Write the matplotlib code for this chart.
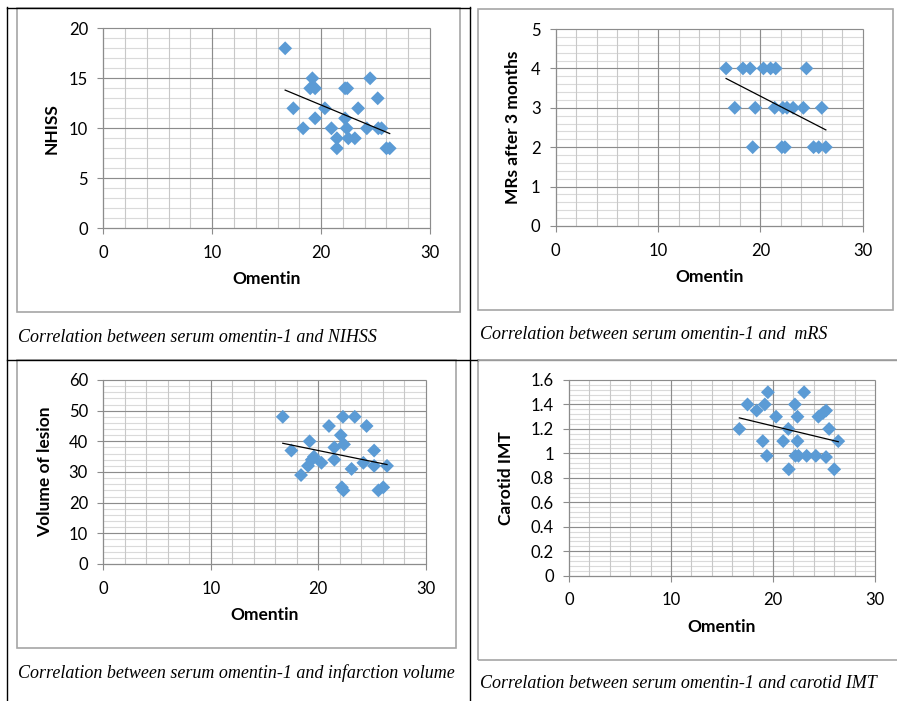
import numpy as np
import matplotlib
matplotlib.use("Agg")
import matplotlib.pyplot as plt
from matplotlib.lines import Line2D
from matplotlib.patches import Rectangle
from matplotlib.ticker import MultipleLocator, FuncFormatter

# Data (x = serum omentin-1)
omentin_nihss = [16.7, 19.2, 19.0, 19.45, 17.45, 20.35, 19.45, 18.35, 20.95, 22.2, 22.4, 22.2, 22.35,
                 21.45, 22.5, 23.1, 21.45, 23.4, 24.5, 25.2, 24.2, 25.25, 25.55, 26.0, 26.3]
nihss = [18, 15, 14, 14, 12, 12, 11, 10, 10, 14, 14, 11, 10, 9, 9, 9, 8, 12, 15, 13, 10, 10, 10, 8, 8]

omentin_mrs = [16.65, 18.3, 19.0, 20.3, 21.0, 21.5, 24.5, 17.5, 19.5, 21.4, 22.2, 22.6, 23.2, 24.2,
               26.0, 19.25, 22.1, 22.4, 25.2, 25.7, 26.4]
mrs = [4, 4, 4, 4, 4, 4, 4, 3, 3, 3, 3, 3, 3, 3, 3, 2, 2, 2, 2, 2, 2]

omentin_vol = [16.7, 17.5, 18.4, 19.2, 19.05, 19.6, 19.4, 20.3, 21.0, 21.5, 21.5, 22.3, 22.1, 22.4,
               22.2, 22.35, 23.4, 23.1, 24.2, 24.5, 25.2, 25.2, 25.6, 26.05, 26.4]
volume = [48, 37, 29, 40, 32, 35, 34, 33, 45, 38, 34, 48, 42, 39, 25, 24, 48, 31, 33, 45, 37, 32, 24, 25, 32]

omentin_imt = [16.7, 17.5, 18.4, 19.2, 19.5, 19.0, 19.4, 20.3, 21.0, 21.5, 21.55, 22.15, 22.4, 22.4,
               22.2, 22.5, 23.05, 23.3, 24.2, 24.45, 24.9, 25.2, 25.5, 25.2, 26.0, 26.4]
imt = [1.2, 1.4, 1.35, 1.4, 1.5, 1.1, 0.98, 1.3, 1.1, 1.2, 0.87, 1.4, 1.3, 1.1, 0.98, 0.98, 1.5, 0.98,
       0.98, 1.3, 1.33, 1.35, 1.2, 0.97, 0.87, 1.1]

captions = ["Correlation between serum omentin-1 and NIHSS",
            "Correlation between serum omentin-1 and  mRS",
            "Correlation between serum omentin-1 and infarction volume",
            "Correlation between serum omentin-1 and carotid IMT"]

plt.rcParams["font.family"] = ["Lato", "DejaVu Sans"]

W, H = 897, 701
fig = plt.figure(figsize=(W / 100, H / 100), dpi=100)

def fx(x):
    return x / W

def fy(y):
    return 1 - y / H

def hline(y, x0, x1, color="black", lw=1.0):
    fig.add_artist(Line2D([fx(x0), fx(x1)], [fy(y), fy(y)], color=color, lw=lw))

def vline(x, y0, y1, color="black", lw=1.0):
    fig.add_artist(Line2D([fx(x), fx(x)], [fy(y0), fy(y1)], color=color, lw=lw))

# table borders
vline(7, 7, 701)
vline(470, 7, 701)
hline(7.5, 7, 470)
hline(360, 7, 478)
hline(360, 478, 897, color="#9a9a9a")

# chart frames (left, top, right, bottom) in pixels
frames = [(17, 8, 460, 312), (478, 9, 893, 310), (17, 360, 456, 648), (478, 360, 899, 660)]
for l, t, r, b in frames:
    fig.add_artist(Rectangle((fx(l), fy(b)), fx(r - l), (b - t) / H, fill=False,
                             edgecolor="#a6a6a6", lw=1.2))

panels = [
    dict(x=omentin_nihss, y=nihss, box=(103.3, 28.3, 430, 228.3), ylim=20, major=5, minor=1,
         ylabel="NHISS", ylab_x=52, xlab_y=279),
    dict(x=omentin_mrs, y=mrs, box=(555.7, 29, 862.7, 226), ylim=5, major=1, minor=0.2,
         ylabel="MRs after 3 months", ylab_x=513, xlab_y=277),
    dict(x=omentin_vol, y=volume, box=(103.3, 380, 425.7, 564), ylim=60, major=10, minor=2,
         ylabel="Volume of lesion", ylab_x=45, xlab_y=615),
    dict(x=omentin_imt, y=imt, box=(569, 380, 875, 575.7), ylim=1.6, major=0.2, minor=0.04,
         ylabel="Carotid IMT", ylab_x=506, xlab_y=627),
]

caption_pos = [(18, 338), (480, 335), (18, 673), (480, 684)]

for p, cap, cp in zip(panels, captions, caption_pos):
    l, t, r, b = p["box"]
    ax = fig.add_axes([fx(l), fy(b), fx(r - l), (b - t) / H])
    ax.set_xlim(0, 30)
    ax.set_ylim(0, p["ylim"])
    ax.xaxis.set_major_locator(MultipleLocator(10))
    ax.yaxis.set_major_locator(MultipleLocator(p["major"]))
    ax.yaxis.set_major_formatter(FuncFormatter(lambda v, pos: f"{round(v, 2):g}"))

    # Excel-style gridlines: light minor lines under darker major lines
    xminor = np.arange(0, 30.001, 2)
    yminor = np.arange(0, p["ylim"] + 1e-9, p["minor"])
    xmajor = np.arange(0, 30.001, 10)
    ymajor = np.arange(0, p["ylim"] + 1e-9, p["major"])
    ax.hlines(yminor, 0, 30, color="#dadada", lw=0.8, zorder=0.5, clip_on=False)
    ax.vlines(xminor, 0, p["ylim"], color="#c8c8c8", lw=0.8, zorder=0.6, clip_on=False)
    ax.hlines(ymajor, 0, 30, color="#8c8c8c", lw=0.8, zorder=0.8, clip_on=False)
    ax.vlines(xmajor, 0, p["ylim"], color="#8c8c8c", lw=0.8, zorder=0.8, clip_on=False)

    for s in ["top", "right"]:
        ax.spines[s].set_visible(False)
    for s in ["left", "bottom"]:
        ax.spines[s].set_color("#8c8c8c")
        ax.spines[s].set_linewidth(0.8)
    ax.tick_params(which="major", direction="out", length=4, width=0.8, color="#8c8c8c",
                   labelsize=12, labelcolor="black")
    ax.tick_params(axis="x", which="major", pad=8)
    ax.tick_params(axis="y", which="major", pad=7)

    ax.scatter(p["x"], p["y"], marker="D", s=50, color="#5b9bd5", edgecolors="none",
               zorder=3, clip_on=False)
    # linear trendline
    k, c = np.polyfit(p["x"], p["y"], 1)
    xs = np.array([min(p["x"]), max(p["x"])])
    ax.plot(xs, k * xs + c, color="black", lw=0.9, zorder=4)

    ax.set_xlabel("Omentin", fontsize=12.5, fontweight="bold")
    ax.set_ylabel(p["ylabel"], fontsize=12.5, fontweight="bold")
    ax.xaxis.set_label_coords(((l + r) / 2 - l) / (r - l), (b - p["xlab_y"]) / (b - t))
    ax.xaxis.label.set_va("center")
    ax.yaxis.set_label_coords((p["ylab_x"] - l) / (r - l), 0.5)
    ax.yaxis.label.set_va("center")

    fig.text(fx(cp[0]), fy(cp[1]), cap, family="Liberation Serif", style="italic",
             fontsize=13.0, va="center", ha="left")

fig.savefig("out.png", dpi=100)
